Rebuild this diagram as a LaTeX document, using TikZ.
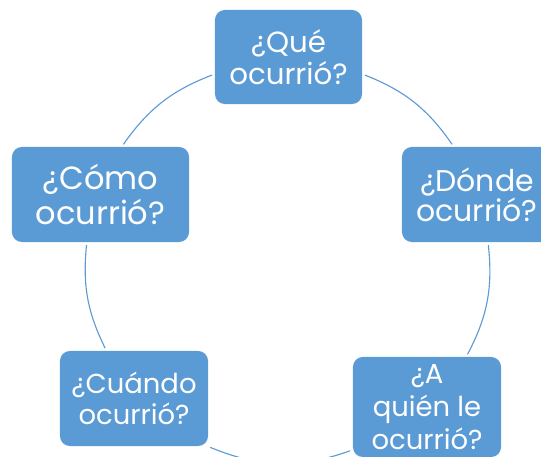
\documentclass[tikz,border=0pt]{standalone}
\usepackage{fontspec}
\setmainfont{Poppins}
\definecolor{boxblue}{HTML}{5B9BD5}
\tikzset{
  qbox/.style={fill=boxblue,rounded corners=7pt,text=white,align=center,inner sep=0pt,
    minimum width=3.7cm,minimum height=2.375cm},
  qfont/.style 2 args={font=\fontsize{#1}{#2}\selectfont}
}
\begin{document}
\begin{tikzpicture}[x=0.025cm,y=-0.025cm,link/.style={draw=boxblue,line width=0.8pt,shorten <=2pt,shorten >=2pt}]
    \useasboundingbox (0,0) rectangle (541,457);

    % the five questions
    \node[qbox,minimum width=3.675cm,minimum height=2.35cm,qfont={20.8}{23}] (que) at (288.5,57) {¿Qué\\ocurrió?};
    \node[qbox,minimum width=4.425cm,qfont={22.8}{25}] (como) at (100.5,194.5) {¿Cómo\\ocurrió?};
    \node[qbox,minimum width=3.75cm,qfont={21.3}{21.5}] (donde) at (477,194.5) {¿Dónde\\ocurrió?};
    \node[qbox,qfont={19.5}{21.5}] (cuando) at (134,398.5) {¿Cuándo\\ocurrió?};
    \node[qbox,minimum height=2.5cm,qfont={19.5}{23.5}] (quien) at (427,407) {¿A\\quién le\\ocurrió?};

    % pieces of the circle
    \foreach \a/\b/\bend in {que.193/como.66/17,como.254/cuando.120/16,cuando.327/quien.210/21,
                             quien.52/donde.283/17,donde.116/que.347/17} {
        \draw[link] (\a) to[bend right=\bend] (\b);
    }
\end{tikzpicture}
\end{document}
